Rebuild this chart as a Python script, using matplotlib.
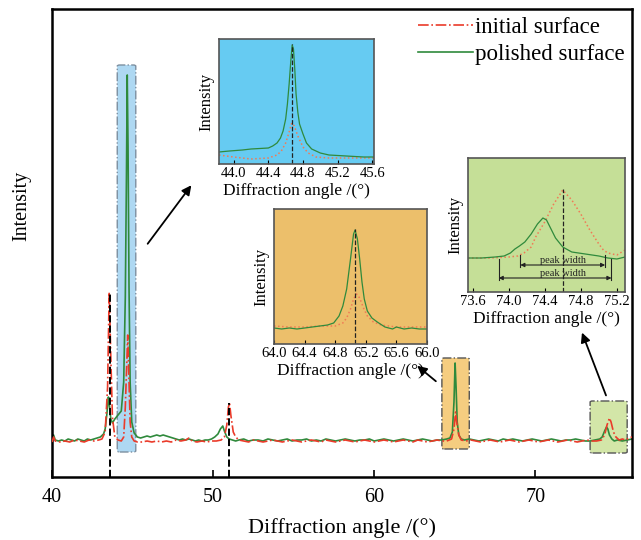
import matplotlib
matplotlib.use('Agg')
import matplotlib.pyplot as plt
from matplotlib.patches import FancyBboxPatch, FancyArrowPatch

plt.rcParams['font.family'] = ['Liberation Serif', 'DejaVu Serif']

# ---- main pattern (intensity in arbitrary units) ----
green_x = [40.0, 40.1, 40.2, 40.4, 40.6, 40.8, 41.0, 41.2, 41.4, 41.6, 41.8, 42.0, 42.2, 42.4,
           42.6, 42.8, 43.0, 43.2, 43.3, 43.4, 43.5, 43.55, 43.65, 43.75, 43.9, 44.1, 44.3, 44.45,
           44.55, 44.62, 44.67, 44.72, 44.78, 44.85, 44.95, 45.1, 45.3, 45.5, 45.7, 45.9, 46.1,
           46.3, 46.5, 46.7, 46.9, 47.1, 47.3, 47.5, 47.7, 47.9, 48.1, 48.3, 48.5, 48.7, 48.9,
           49.1, 49.3, 49.5, 49.7, 49.9, 50.1, 50.3, 50.45, 50.6, 50.7, 50.85, 51.0, 51.2, 51.4,
           51.6, 51.9, 52.2, 52.5, 52.8, 53.1, 53.4, 53.7, 54.0, 54.3, 54.6, 54.9, 55.2, 55.5,
           55.8, 56.1, 56.4, 56.7, 57.0, 57.3, 57.6, 57.9, 58.2, 58.5, 58.8, 59.1, 59.4, 59.7,
           60.0, 60.3, 60.6, 60.9, 61.2, 61.5, 61.8, 62.1, 62.4, 62.7, 63.0, 63.3, 63.6, 63.9,
           64.2, 64.5, 64.7, 64.85, 64.95, 65.02, 65.08, 65.15, 65.25, 65.4, 65.6, 65.9, 66.2,
           66.5, 66.8, 67.1, 67.4, 67.7, 68.0, 68.3, 68.6, 68.9, 69.2, 69.5, 69.8, 70.1, 70.4,
           70.7, 71.0, 71.3, 71.6, 71.9, 72.2, 72.5, 72.8, 73.1, 73.4, 73.7, 74.0, 74.15, 74.3,
           74.42, 74.5, 74.6, 74.75, 74.9, 75.1, 75.4, 75.7, 76.0]
green_y = [36, 42, 37, 36, 37, 36, 38, 37, 36, 38, 37, 36, 38, 37,
           38, 39, 40, 43, 48, 62, 80, 74, 58, 54, 58, 62, 66, 95,
           180, 300, 402, 330, 190, 95, 55, 44, 40, 39, 40, 41, 40,
           41, 42, 41, 42, 41, 40, 39, 38, 37, 38, 37, 38, 37, 36,
           37, 36, 37, 37, 38, 40, 43, 48, 51, 46, 40, 38, 37, 36,
           37, 38, 36, 37, 37, 36, 38, 37, 36, 37, 38, 36, 37, 37,
           38, 36, 37, 36, 38, 37, 36, 37, 38, 37, 36, 37, 37, 38,
           36, 37, 38, 37, 36, 37, 38, 37, 36, 37, 38, 37, 36, 37,
           37, 38, 39, 45, 75, 114, 90, 55, 42, 38, 37, 38, 37,
           36, 37, 38, 37, 36, 38, 37, 38, 37, 36, 37, 38, 37, 36,
           37, 38, 37, 36, 37, 37, 38, 37, 36, 36, 37, 38, 40, 46,
           50, 48, 42, 38, 36, 37, 36, 37, 38]

red_x = [40.0, 40.1, 40.2, 40.5, 40.8, 41.1, 41.4, 41.7, 42.0, 42.3, 42.6, 42.9, 43.1, 43.3,
         43.45, 43.55, 43.65, 43.75, 43.9, 44.1, 44.3, 44.45, 44.55, 44.63, 44.7, 44.77, 44.85,
         44.95, 45.1, 45.3, 45.6, 45.9, 46.2, 46.5, 46.8, 47.1, 47.4, 47.7, 48.0, 48.3, 48.5,
         48.7, 49.0, 49.3, 49.6, 49.9, 50.2, 50.5, 50.7, 50.85, 50.95, 51.02, 51.1, 51.25, 51.4,
         51.6, 51.9, 52.2, 52.5, 52.8, 53.1, 53.4, 53.7, 54.0, 54.3, 54.6, 54.9, 55.2, 55.5,
         55.8, 56.1, 56.4, 56.7, 57.0, 57.3, 57.6, 57.9, 58.2, 58.5, 58.8, 59.1, 59.4, 59.7,
         60.0, 60.3, 60.6, 60.9, 61.2, 61.5, 61.8, 62.1, 62.4, 62.7, 63.0, 63.3, 63.6, 63.9,
         64.2, 64.5, 64.8, 64.95, 65.05, 65.12, 65.25, 65.4, 65.7, 66.0, 66.3, 66.6, 66.9, 67.2,
         67.5, 67.8, 68.1, 68.4, 68.7, 69.0, 69.3, 69.6, 69.9, 70.2, 70.5, 70.8, 71.1, 71.4,
         71.7, 72.0, 72.3, 72.6, 72.9, 73.2, 73.5, 73.8, 74.1, 74.3, 74.45, 74.6, 74.7, 74.85,
         75.0, 75.2, 75.4, 75.6, 75.8, 76.0]
red_y = [35, 40, 36, 35, 36, 35, 37, 36, 35, 37, 36, 37, 38, 45,
         90, 185, 120, 60, 40, 37, 36, 40, 70, 110, 142, 100, 55,
         40, 36, 35, 35, 36, 35, 36, 35, 36, 35, 37, 36, 37, 39,
         36, 35, 36, 35, 36, 36, 37, 40, 52, 70, 74, 62, 45, 40,
         37, 36, 35, 37, 36, 35, 36, 37, 36, 35, 36, 37, 36, 35,
         36, 37, 36, 35, 37, 36, 35, 36, 37, 36, 35, 36, 37, 36,
         35, 36, 37, 36, 35, 36, 37, 36, 35, 37, 36, 35, 36, 37,
         36, 36, 38, 48, 65, 55, 42, 37, 36, 37, 36, 35, 36, 37,
         36, 35, 36, 37, 36, 35, 36, 37, 36, 35, 36, 37, 36, 35,
         36, 37, 36, 35, 36, 37, 36, 36, 37, 42, 52, 59, 55, 45,
         40, 37, 38, 37, 39, 40]

# ---- inset 1 (44.7 deg peak) ----
in1_gx = [43.83, 43.95, 44.1, 44.2, 44.3, 44.4, 44.45, 44.5, 44.54, 44.57, 44.6, 44.62, 44.64,
          44.66, 44.675, 44.69, 44.705, 44.72, 44.74, 44.76, 44.8, 44.84, 44.9, 45.0, 45.1,
          45.3, 45.5, 45.62]
in1_gy = [12, 13, 14, 15, 15.5, 16, 18, 21, 26, 33, 45, 60, 80, 104, 119, 115, 95, 70, 52, 40,
          30, 21, 15, 11, 9, 8, 7, 7]
in1_rx = [43.83, 44.0, 44.2, 44.4, 44.5, 44.55, 44.6, 44.64, 44.67, 44.7, 44.74, 44.8, 44.86,
          44.95, 45.1, 45.4, 45.62]
in1_ry = [9, 7, 5, 6, 9, 13, 21, 32, 41, 38, 28, 17, 11, 7, 6, 6, 6]

# ---- inset 2 (65 deg peak) ----
in2_gx = [64.0, 64.1, 64.2, 64.3, 64.4, 64.5, 64.6, 64.7, 64.78, 64.85, 64.9, 64.95, 65.0,
          65.04, 65.06, 65.09, 65.12, 65.15, 65.18, 65.22, 65.28, 65.35, 65.45, 65.55, 65.6,
          65.7, 65.8, 65.9, 66.0]
in2_gy = [16, 15, 16, 15, 16, 17, 18, 19, 21, 28, 38, 55, 85, 110, 114, 105, 85, 62, 45, 33,
          26, 22, 17, 15, 17, 15, 16, 15, 15]
in2_rx = [64.0, 64.2, 64.4, 64.6, 64.8, 64.9, 64.95, 65.0, 65.04, 65.08, 65.12, 65.17, 65.22,
          65.3, 65.4, 65.6, 65.8, 66.0]
in2_ry = [18, 17, 17, 18, 18, 21, 26, 35, 45, 50, 46, 36, 28, 22, 19, 17, 17, 17]

# ---- inset 3 (74.5 deg peak) ----
in3_gx = [73.55, 73.7, 73.85, 73.95, 74.02, 74.07, 74.12, 74.18, 74.25, 74.32, 74.38, 74.42,
          74.47, 74.52, 74.6, 74.7, 74.85, 75.0, 75.1, 75.2, 75.29]
in3_gy = [34, 34, 35, 36, 39, 43, 46, 50, 58, 68, 74, 72, 63, 54, 45, 40, 38, 36, 34, 33, 35]
in3_rx = [73.55, 73.8, 74.0, 74.1, 74.17, 74.25, 74.3, 74.4, 74.5, 74.6, 74.7, 74.8, 74.9,
          75.0, 75.05, 75.1, 75.2, 75.29]
in3_ry = [34, 34, 35, 36, 39, 45, 55, 70, 88, 102, 92, 78, 62, 48, 42, 39, 37, 42]

RED = '#ea3b2a'
GREEN = '#2f8a3c'
RED_IN = '#f07a55'

fig = plt.figure(figsize=(6.41, 5.40), dpi=100)
ax = fig.add_axes([52 / 641, 1 - 477 / 540, 580 / 641, 468 / 540])

# highlight boxes around the zoomed peaks
boxes = [(44.05, 45.2, 25, 412, '#aed8f2', '#7d8fa0'),
         (64.2, 65.9, 28, 119, '#f5cd80', '#555555'),
         (73.4, 75.7, 24, 76, '#d3e6a8', '#555555')]
for x0, x1, y0, y1, fc, ec in boxes:
    ax.add_patch(FancyBboxPatch((x0, y0), x1 - x0, y1 - y0,
                                boxstyle='round,pad=0,rounding_size=0.15',
                                fc=fc, ec=ec, lw=1.0, ls='-.', zorder=1,
                                mutation_aspect=8))

ax.plot(red_x, red_y, color=RED, ls='-.', lw=1.2, label='initial surface', zorder=3)
ax.plot(green_x, green_y, color=GREEN, ls='-', lw=1.2, label='polished surface', zorder=2)

ax.plot([43.6, 43.6], [0, 185], color='black', ls='--', lw=1.4, zorder=4)
ax.plot([51.0, 51.0], [0, 74], color='black', ls='--', lw=1.4, zorder=4)

ax.set_xlim(40, 76)
ax.set_ylim(0, 468)
ax.set_yticks([])
ax.set_xticks([40, 50, 60, 70])
ax.tick_params(axis='x', direction='in', length=5, width=1.2, labelsize=14.5, pad=8)
for s in ax.spines.values():
    s.set_linewidth(1.8)
ax.set_xlabel('Diffraction angle /(°)', fontsize=16)
ax.xaxis.set_label_coords(0.5, -0.088)
ax.set_ylabel('Intensity', fontsize=14.5)
ax.yaxis.set_label_coords(-0.036, 0.58)

ax.legend(loc='upper right', bbox_to_anchor=(625 / 641, 1 - 17 / 540),
          bbox_transform=fig.transFigure, frameon=False, fontsize=16.5,
          handlelength=2.4, handletextpad=0.1, labelspacing=0.25,
          borderaxespad=0, borderpad=0)


def inset(rect, bg, gx, gy, rx, ry, xlim, ylim, ticks, vline):
    a = fig.add_axes(rect)
    a.set_facecolor(bg)
    a.plot(rx, ry, color=RED_IN, ls=':', lw=1.1)
    a.plot(gx, gy, color=GREEN, ls='-', lw=0.9)
    a.plot([vline[0], vline[0]], [0, vline[1]], color='#222222', ls='--', lw=0.9)
    a.set_xlim(*xlim)
    a.set_ylim(*ylim)
    a.set_yticks([])
    a.set_xticks(ticks)
    a.set_xticklabels(['%.1f' % t for t in ticks])
    a.tick_params(axis='x', direction='in', length=3, labelsize=10.5, pad=2)
    for s in a.spines.values():
        s.set_color('#555555')
        s.set_linewidth(1.2)
    a.set_xlabel('Diffraction angle /(°)', fontsize=12.5, labelpad=2)
    a.set_ylabel('Intensity', fontsize=12, labelpad=3)
    return a


inset([219 / 641, 1 - 164 / 540, 155 / 641, 125 / 540], '#66cbf2',
      in1_gx, in1_gy, in1_rx, in1_ry, (43.83, 45.62), (0, 125),
      [44.0, 44.4, 44.8, 45.2, 45.6], (44.675, 120))
inset([274 / 641, 1 - 344 / 540, 153 / 641, 135 / 540], '#ecbf6b',
      in2_gx, in2_gy, in2_rx, in2_ry, (64.0, 66.0), (0, 135),
      [64.0, 64.4, 64.8, 65.2, 65.6, 66.0], (65.06, 115))
a3 = inset([468 / 641, 1 - 292 / 540, 157 / 641, 134 / 540], '#c5df97',
           in3_gx, in3_gy, in3_rx, in3_ry, (73.55, 75.29), (0, 134),
           [73.6, 74.0, 74.4, 74.8, 75.2], (74.6, 103))

# peak width markers
widths = [(74.13, 75.07, 27, 37), (73.89, 75.14, 14, 33)]
for x0, x1, ya, ytop in widths:
    a3.annotate('', xy=(x0, ya), xytext=(x1, ya),
                arrowprops=dict(arrowstyle='<|-|>', color='#222222', lw=0.8,
                                mutation_scale=6, shrinkA=0, shrinkB=0))
    a3.plot([x0, x0], [ya - 2, ytop], color='#222222', lw=0.8)
    a3.plot([x1, x1], [ya - 2, ytop], color='#222222', lw=0.8)
    a3.text(74.6, ya, 'peak width', ha='center', va='bottom', fontsize=7.5, color='#222222')

# arrows pointing from boxes to insets
arrows = [((146, 246), (193, 183)), ((438, 383), (415, 364)), ((607, 398), (581, 330))]
for (tx, ty), (hx, hy) in arrows:
    fig.patches.append(FancyArrowPatch(
        (tx / 641, 1 - ty / 540), (hx / 641, 1 - hy / 540),
        transform=fig.transFigure, arrowstyle='-|>', mutation_scale=14,
        color='black', lw=1.3))

fig.savefig('out.png', dpi=100)
